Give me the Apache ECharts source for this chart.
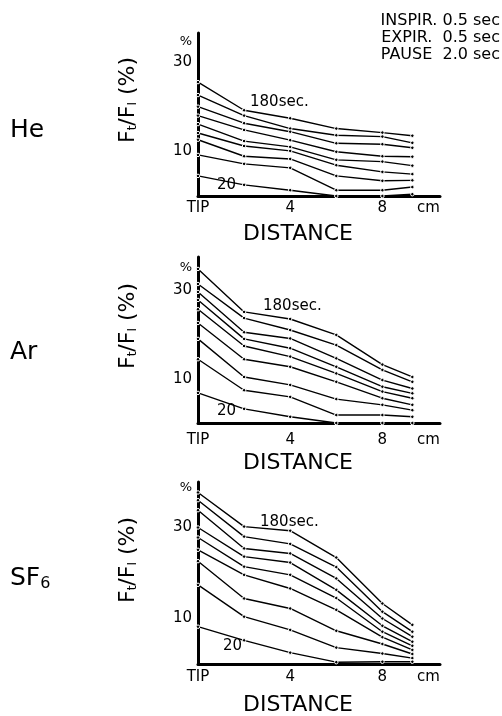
<!DOCTYPE html>
<html lang="en">
<head>
    <meta charset="UTF-8">
    <title>Ft/FI vs distance</title>
    <script src="https://cdn.jsdelivr.net/npm/echarts@6/dist/echarts.min.js"></script>
    <style>
        html, body { margin: 0; padding: 0; background: #fff; }
        #chart { width: 502px; height: 716px; }
    </style>
</head>
<body>
<div id="chart"></div>
<script>
    // distance from tip (cm)
    var distances = [0, 2, 4, 6, 8, 9.3];
    // curves, top to bottom: 180, 160, ... 20 sec
    var times = [180, 160, 140, 120, 100, 80, 60, 40, 20];

    var heValues = [
        [25.5, 19.2, 17.4, 15.1, 14.2, 13.5],
        [22.6, 18.0, 15.1, 13.6, 13.3, 11.9],
        [20.0, 16.3, 14.4, 11.8, 11.6, 10.8],
        [18.0, 14.8, 12.5, 9.9, 8.9, 8.8],
        [16.1, 12.3, 11.0, 8.1, 7.7, 6.8],
        [14.1, 11.2, 10.1, 6.9, 5.4, 4.9],
        [12.6, 8.9, 8.3, 4.5, 3.4, 3.5],
        [9.2, 7.2, 6.3, 1.3, 1.3, 2.0],
        [4.5, 2.5, 1.3, 0, 0, 0.4]
    ];
    var arValues = [
        [34.8, 25.1, 23.5, 19.9, 13.2, 10.4],
        [31.4, 23.7, 21.0, 17.6, 12.0, 9.3],
        [29.6, 20.5, 19.1, 14.6, 9.7, 7.8],
        [27.8, 19.0, 16.9, 12.7, 8.2, 6.7],
        [25.7, 17.4, 15.0, 11.2, 7.1, 5.6],
        [22.6, 14.4, 12.7, 9.3, 5.6, 4.1],
        [19.0, 10.4, 8.6, 5.4, 4.1, 2.9],
        [14.4, 7.4, 5.9, 1.8, 1.8, 1.4],
        [6.8, 3.2, 1.4, 0, 0, 0]
    ];
    var sf6Values = [
        [37.7, 30.2, 29.3, 23.4, 13.3, 8.6],
        [36.0, 28.0, 26.4, 21.3, 11.5, 7.1],
        [33.8, 25.4, 24.3, 18.8, 10.0, 6.0],
        [30.0, 23.6, 22.3, 16.3, 8.4, 4.9],
        [27.8, 21.4, 19.6, 14.5, 7.1, 4.0],
        [25.1, 19.6, 16.6, 11.9, 5.9, 3.1],
        [22.6, 14.4, 12.2, 7.3, 4.4, 2.2],
        [17.4, 10.4, 7.5, 3.6, 2.3, 1.3],
        [8.2, 5.2, 2.5, 0.4, 0.5, 0.5]
    ];
    var xTickLabels = {0: 'TIP', 4: '4', 8: '8', 10: 'cm'};
    var yTickLabels = [10, 30];

    var FONT = 'DejaVu Sans';
    var panels = [
        {values: heValues, top: 33, height: 163, max: 36.5, xMargin: 5},
        {values: arValues, top: 257, height: 166, max: 37.5, xMargin: 10},
        {values: sf6Values, top: 482, height: 182, max: 40, xMargin: 6}
    ];

    var grids = [], xAxes = [], yAxes = [], series = [];
    panels.forEach(function (p, k) {
        grids.push({left: 198, right: 62, top: p.top, height: p.height});
        xAxes.push({
            type: 'value', gridIndex: k, min: 0, max: 10.5, interval: 2,
            axisLine: {lineStyle: {color: '#000', width: 3}},
            axisTick: {show: false},
            splitLine: {show: false},
            axisLabel: {
                color: '#000', fontFamily: FONT, fontSize: 15, margin: p.xMargin,
                formatter: function (v) { return xTickLabels[v] || ''; }
            }
        });
        yAxes.push({
            type: 'value', gridIndex: k, min: 0, max: p.max, interval: 10,
            axisLine: {show: true, lineStyle: {color: '#000', width: 3}},
            axisTick: {show: false},
            splitLine: {show: false},
            axisLabel: {
                color: '#000', fontFamily: FONT, fontSize: 15, margin: 6,
                formatter: function (v) { return yTickLabels.indexOf(v) >= 0 ? String(v) : ''; }
            }
        });
        p.values.forEach(function (row, i) {
            series.push({
                name: times[i] + ' sec',
                type: 'line',
                xAxisIndex: k, yAxisIndex: k,
                data: distances.map(function (d, j) { return [d, row[j]]; }),
                symbol: 'circle', symbolSize: 3.5,
                lineStyle: {color: '#000', width: 1.4},
                itemStyle: {color: '#000', borderColor: '#fff', borderWidth: 1},
                animation: false
            });
        });
    });

    function txt(x, y, text, size, opts) {
        opts = opts || {};
        return {
            type: 'text', x: x, y: y, rotation: opts.rotation || 0,
            style: {
                text: text, fill: '#000', fontFamily: FONT, fontSize: size,
                align: opts.align || 'left', verticalAlign: 'middle',
                rich: opts.rich
            }
        };
    }
    var subRich = {
        m: {fontFamily: FONT, fontSize: 22, fill: '#000'},
        s: {fontFamily: FONT, fontSize: 12, fill: '#000', verticalAlign: 'bottom', padding: [8, 0, 0, 0]}
    };
    var ftTitle = '{m|F}{s|t}{m|/F}{s|I}{m| (%)}';
    var gasRich = {
        m: {fontFamily: FONT, fontSize: 25, fill: '#000'},
        s: {fontFamily: FONT, fontSize: 16, fill: '#000', padding: [12, 0, 0, 0]}
    };

    var graphics = [
        txt(500, 21, 'INSPIR. 0.5 sec', 16, {align: 'right'}),
        txt(500, 38, 'EXPIR.  0.5 sec', 16, {align: 'right'}),
        txt(500, 55, 'PAUSE  2.0 sec', 16, {align: 'right'}),
        txt(10, 130, 'He', 25),
        txt(10, 352, 'Ar', 25),
        txt(10, 578, '{m|SF}{s|6}', 25, {rich: gasRich}),
        txt(128, 100, ftTitle, 22, {align: 'center', rotation: Math.PI / 2, rich: subRich}),
        txt(128, 326, ftTitle, 22, {align: 'center', rotation: Math.PI / 2, rich: subRich}),
        txt(128, 560, ftTitle, 22, {align: 'center', rotation: Math.PI / 2, rich: subRich}),
        txt(192, 42, '%', 13, {align: 'right'}),
        txt(192, 268, '%', 13, {align: 'right'}),
        txt(192, 488, '%', 13, {align: 'right'}),
        txt(298, 234, 'DISTANCE', 22, {align: 'center'}),
        txt(298, 463, 'DISTANCE', 22, {align: 'center'}),
        txt(298, 705, 'DISTANCE', 22, {align: 'center'}),
        txt(250, 102, '180sec.', 15),
        txt(263, 306, '180sec.', 15),
        txt(260, 522, '180sec.', 15),
        txt(217, 185, '20', 15),
        txt(217, 411, '20', 15),
        txt(223, 646, '20', 15)
    ];

    var chart = echarts.init(document.getElementById('chart'));
    chart.setOption({
        backgroundColor: '#fff',
        animation: false,
        grid: grids,
        xAxis: xAxes,
        yAxis: yAxes,
        series: series,
        graphic: graphics
    });
</script>
</body>
</html>
